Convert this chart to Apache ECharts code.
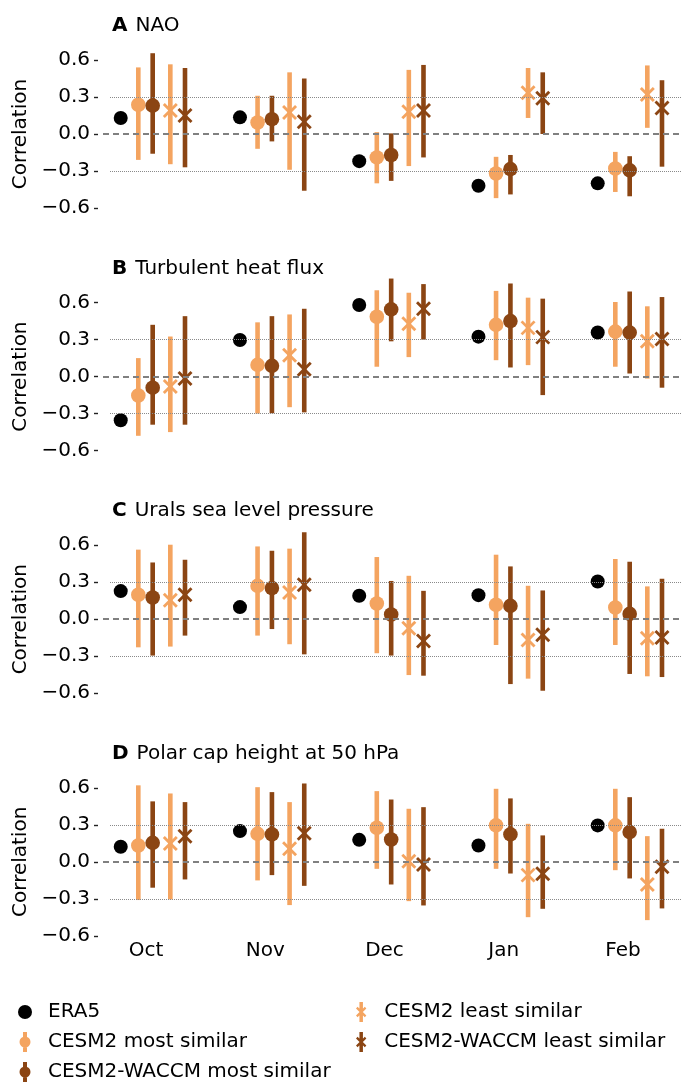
<!DOCTYPE html>
<html><head><meta charset="utf-8">
<script src="https://cdn.jsdelivr.net/npm/echarts@6/dist/echarts.min.js"></script>
<style>html,body{margin:0;padding:0;background:#fff}#c{width:682px;height:1082px}</style>
</head><body><div id="c"></div>
<script>
// ---------------- DATA ----------------
const months = ['Oct', 'Nov', 'Dec', 'Jan', 'Feb'];
const yTicks = [-0.6, -0.3, 0, 0.3, 0.6];
const panelLetters = ['A', 'B', 'C', 'D'];
const panelNames = ['NAO', 'Turbulent heat flux', 'Urals sea level pressure', 'Polar cap height at 50 hPa'];
const seriesNames = ['ERA5', 'CESM2 most similar', 'CESM2-WACCM most similar', 'CESM2 least similar', 'CESM2-WACCM least similar'];

// each entry: [value, lower, upper]; ERA5 only value
const naoERA5 = [0.13, 0.135, -0.22, -0.42, -0.40];
const naoCesm2Most = [[0.237, -0.21, 0.54], [0.093, -0.12, 0.31], [-0.19, -0.40, 0.015], [-0.32, -0.52, -0.185], [-0.28, -0.47, -0.145]];
const naoWaccmMost = [[0.23, -0.16, 0.655], [0.12, -0.06, 0.31], [-0.17, -0.38, 0.005], [-0.285, -0.49, -0.17], [-0.295, -0.505, -0.18]];
const naoCesm2Least = [[0.19, -0.245, 0.565], [0.175, -0.29, 0.50], [0.18, -0.26, 0.52], [0.335, 0.13, 0.535], [0.32, 0.05, 0.556]];
const naoWaccmLeast = [[0.15, -0.27, 0.535], [0.10, -0.46, 0.45], [0.19, -0.19, 0.56], [0.29, 0.0, 0.50], [0.21, -0.265, 0.436]];

const thfERA5 = [-0.354, 0.297, 0.58, 0.324, 0.357];
const thfCesm2Most = [[-0.153, -0.48, 0.15], [0.095, -0.30, 0.44], [0.485, 0.08, 0.70], [0.42, 0.133, 0.695], [0.365, 0.08, 0.605]];
const thfWaccmMost = [[-0.09, -0.39, 0.42], [0.087, -0.297, 0.49], [0.545, 0.286, 0.795], [0.45, 0.074, 0.755], [0.357, 0.025, 0.69]];
const thfCesm2Least = [[-0.08, -0.45, 0.325], [0.174, -0.248, 0.504], [0.428, 0.158, 0.68], [0.395, 0.093, 0.64], [0.286, -0.016, 0.57]];
const thfWaccmLeast = [[-0.016, -0.39, 0.49], [0.06, -0.29, 0.55], [0.55, 0.30, 0.75], [0.32, -0.15, 0.632], [0.305, -0.09, 0.645]];

const uralsERA5 = [0.228, 0.098, 0.19, 0.195, 0.306];
const uralsCesm2Most = [[0.198, -0.228, 0.564], [0.27, -0.133, 0.59], [0.127, -0.276, 0.504], [0.117, -0.209, 0.523], [0.095, -0.209, 0.488]];
const uralsWaccmMost = [[0.176, -0.295, 0.46], [0.252, -0.08, 0.555], [0.038, -0.295, 0.31], [0.108, -0.526, 0.428], [0.043, -0.444, 0.466]];
const uralsCesm2Least = [[0.154, -0.222, 0.604], [0.217, -0.203, 0.572], [-0.073, -0.453, 0.352], [-0.168, -0.482, 0.271], [-0.154, -0.463, 0.266]];
const uralsWaccmLeast = [[0.198, -0.133, 0.482], [0.28, -0.285, 0.705], [-0.176, -0.458, 0.23], [-0.127, -0.58, 0.233], [-0.149, -0.469, 0.328]];

const pchERA5 = [0.122, 0.249, 0.178, 0.132, 0.295];
const pchCesm2Most = [[0.132, -0.31, 0.62], [0.227, -0.151, 0.605], [0.276, -0.057, 0.573], [0.295, -0.057, 0.592], [0.295, -0.068, 0.592]];
const pchWaccmMost = [[0.154, -0.21, 0.49], [0.222, -0.108, 0.565], [0.181, -0.184, 0.505], [0.222, -0.095, 0.514], [0.241, -0.135, 0.524]];
const pchCesm2Least = [[0.149, -0.305, 0.554], [0.105, -0.351, 0.484], [0.005, -0.319, 0.43], [-0.108, -0.449, 0.308], [-0.184, -0.473, 0.208]];
const pchWaccmLeast = [[0.208, -0.143, 0.484], [0.232, -0.195, 0.635], [-0.022, -0.354, 0.443], [-0.097, -0.381, 0.214], [-0.041, -0.378, 0.268]];

const panels = [
  [naoERA5, naoCesm2Most, naoWaccmMost, naoCesm2Least, naoWaccmLeast],
  [thfERA5, thfCesm2Most, thfWaccmMost, thfCesm2Least, thfWaccmLeast],
  [uralsERA5, uralsCesm2Most, uralsWaccmMost, uralsCesm2Least, uralsWaccmLeast],
  [pchERA5, pchCesm2Most, pchWaccmMost, pchCesm2Least, pchWaccmLeast]
];

// ---------------- STYLE ----------------
const FONT = 'DejaVu Sans';
const colors = ['#000000', '#F4A460', '#8B4513', '#F4A460', '#8B4513'];
const kinds = ['dot', 'most', 'most', 'least', 'least'];
const dodge = [-0.212, -0.0645, 0.056, 0.204, 0.327]; // position within month group (category units)
const panelStep = 242.6, gridTop0 = 60, gridH = 148, gridLeft = 103;
const pxPerCat = 119.25, labelX0 = 146;
const xMin = -(labelX0 - gridLeft) / pxPerCat;
const xMax = xMin + (682 - gridLeft) / pxPerCat;

function fmtY(v) {
  const s = Math.abs(v).toFixed(1);
  return v < -1e-9 ? '\u2212' + s : s;
}

function renderItem(k) {
  return function (params, api) {
    const x = api.value(0) + dodge[k];
    const c = colors[k];
    const p = api.coord([x, api.value(1)]);
    const ch = [];
    if (kinds[k] !== 'dot') {
      const lo = api.coord([x, api.value(2)]);
      const hi = api.coord([x, api.value(3)]);
      ch.push({ type: 'line', shape: { x1: lo[0], y1: lo[1], x2: hi[0], y2: hi[1] },
        style: { stroke: c, lineWidth: 4.6, lineCap: 'butt' } });
    }
    if (kinds[k] === 'least') {
      const r = 6.5;
      ch.push({ type: 'line', shape: { x1: p[0] - r, y1: p[1] - r, x2: p[0] + r, y2: p[1] + r }, style: { stroke: c, lineWidth: 2.8 } });
      ch.push({ type: 'line', shape: { x1: p[0] - r, y1: p[1] + r, x2: p[0] + r, y2: p[1] - r }, style: { stroke: c, lineWidth: 2.8 } });
    } else {
      ch.push({ type: 'circle', shape: { cx: p[0], cy: p[1], r: kinds[k] === 'dot' ? 7 : 7.3 }, style: { fill: c } });
    }
    return { type: 'group', children: ch };
  };
}

// legend icon paths
function seg(ax, ay, bx, by, h) {
  let dx = bx - ax, dy = by - ay; const L = Math.hypot(dx, dy); dx /= L; dy /= L;
  const nx = -dy * h, ny = dx * h;
  let pts = [[ax + nx, ay + ny], [bx + nx, by + ny], [bx - nx, by - ny], [ax - nx, ay - ny]];
  let area = 0;
  for (let i = 0; i < 4; i++) { const a = pts[i], b = pts[(i + 1) % 4]; area += a[0] * b[1] - b[0] * a[1]; }
  if (area < 0) pts = pts.reverse();
  return 'M' + pts.map(q => q[0].toFixed(2) + ',' + q[1].toFixed(2)).join(' L') + ' Z';
}
const iconDot = 'path://M0.5,10 A6.5,6.5 0 1,1 13.5,10 A6.5,6.5 0 1,1 0.5,10 Z';
const iconMost = 'path://M5,0 L9,0 L9,20 L5,20 Z M1.5,10 A5.5,5.5 0 1,1 12.5,10 A5.5,5.5 0 1,1 1.5,10 Z';
const iconLeast = 'path://M5.25,0 L8.75,0 L8.75,20 L5.25,20 Z ' + seg(2.6, 5.6, 11.4, 14.4, 1.1) + ' ' + seg(11.4, 5.6, 2.6, 14.4, 1.1);
const icons = [iconDot, iconMost, iconMost, iconLeast, iconLeast];

// ---------------- OPTION ----------------
const grids = [], xAxes = [], yAxes = [], titles = [], series = [];
panels.forEach((panel, pi) => {
  const top = gridTop0 + panelStep * pi;
  grids.push({ left: gridLeft, right: 0, top: top, height: gridH });
  titles.push({
    text: '{b|' + panelLetters[pi] + '}{n|' + panelNames[pi] + '}',
    left: 112, top: top - 44, padding: 0,
    textStyle: { fontWeight: 'normal', rich: {
      b: { fontFamily: FONT, fontWeight: 'bold', fontSize: 20, color: '#000', padding: [0, 8, 0, 0] },
      n: { fontFamily: FONT, fontWeight: 'normal', fontSize: 20, color: '#000' } } }
  });
  const last = pi === panels.length - 1;
  xAxes.push({
    type: 'value', gridIndex: pi, min: xMin, max: xMax,
    axisLine: { show: false, onZero: false }, axisTick: { show: false }, splitLine: { show: false },
    axisLabel: { show: last, customValues: [0, 1, 2, 3, 4], formatter: v => months[Math.round(v)],
      fontFamily: FONT, fontSize: 20, color: '#000', margin: 5 }
  });
  yAxes.push({
    type: 'value', gridIndex: pi, min: -0.6, max: 0.6, interval: 0.3, offset: 5,
    name: 'Correlation', nameLocation: 'middle', nameGap: 56,
    nameTextStyle: { fontFamily: FONT, fontSize: 20, color: '#000' },
    axisLine: { show: false, onZero: false },
    axisTick: { show: true, length: 4, lineStyle: { color: '#222', width: 1.4 } },
    splitLine: { show: false },
    axisLabel: { fontFamily: FONT, fontSize: 20, color: '#000', margin: 8, formatter: fmtY }
  });
  // reference lines
  series.push({
    type: 'line', xAxisIndex: pi, yAxisIndex: pi, data: [], silent: true,
    markLine: { symbol: 'none', silent: true, label: { show: false }, animation: false,
      data: [
        [{ coord: [xMin + 7 / pxPerCat, yTicks[3]], lineStyle: { type: [1, 1], color: '#8a8a8a', width: 1 } }, { coord: [xMax, yTicks[3]] }],
        [{ coord: [xMin + 7 / pxPerCat, yTicks[1]], lineStyle: { type: [1, 1], color: '#8a8a8a', width: 1 } }, { coord: [xMax, yTicks[1]] }],
        [{ coord: [xMin, yTicks[2]], lineStyle: { type: [6, 4], color: '#808080', width: 2 } }, { coord: [xMax, yTicks[2]] }]
      ] }
  });
  panel.forEach((arr, k) => {
    const data = arr.map((d, i) => Array.isArray(d) ? [i, d[0], d[1], d[2]] : [i, d, d, d]);
    series.push({
      type: 'custom', name: seriesNames[k], xAxisIndex: pi, yAxisIndex: pi,
      clip: false, animation: false, itemStyle: { color: colors[k] },
      encode: { x: 0, y: [1, 2, 3] },
      renderItem: renderItem(k), data: data
    });
  });
});

const legendText = { fontFamily: FONT, fontSize: 20, color: '#000', padding: [0, 0, 0, 11] };
const option = {
  backgroundColor: '#fff',
  animation: false,
  title: titles,
  grid: grids, xAxis: xAxes, yAxis: yAxes, series: series,
  legend: [
    { orient: 'vertical', left: 18, top: 1002, padding: 0, itemWidth: 14, itemHeight: 20, itemGap: 10, selectedMode: false,
      textStyle: legendText,
      data: [0, 1, 2].map(k => ({ name: seriesNames[k], icon: icons[k], itemStyle: { color: colors[k] } })) },
    { orient: 'vertical', left: 356, top: 1002, padding: 0, itemWidth: 14, itemHeight: 20, itemGap: 10, selectedMode: false,
      textStyle: legendText,
      data: [3, 4].map(k => ({ name: seriesNames[k], icon: icons[k], itemStyle: { color: colors[k] } })) }
  ]
};
const chart = echarts.init(document.getElementById('c'), null, { renderer: 'canvas' });
chart.setOption(option);
</script>
</body></html>
